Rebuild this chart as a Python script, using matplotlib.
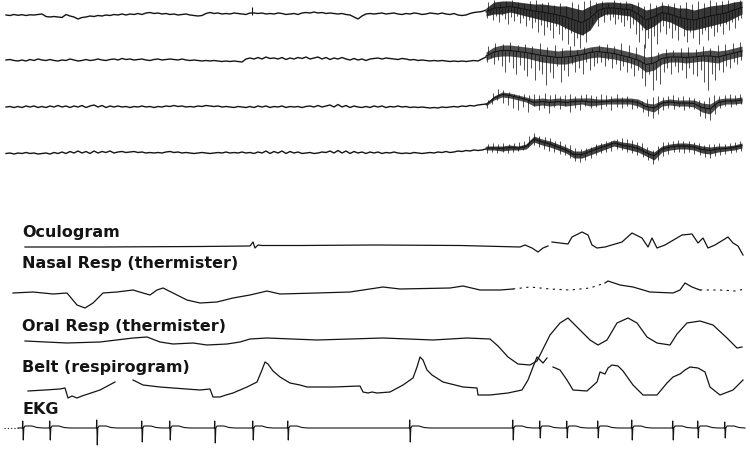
import numpy as np
import matplotlib
matplotlib.use("Agg")
import matplotlib.pyplot as plt

# ---------------- data (pixel-time units, deflections in px, + = downwards) -------------
eeg_bases = [15, 60, 107, 153]

eeg1_left = [0,0.5,-0.5,0.3,-0.3,0.5,-0.2,0,-0.5,-1,1.5,2,1.5,2,2.5,-0.5,1,2,4,2.5,2,1,1.5,0.5,1,0,0.5,-0.5,0,-1,0,-1,-0.5,-1.5,-0.5,-2,-2.5,-1.5,-2,-1,-1.5,-0.5,-1,0,-0.5,-1,0,0.5,1,0.5,-1.5,-2.5,-1.5,-2,-1,-1.5,-1,-2,-1.5,-1,-0.5,-2,-2,-1.5,-2,-1,-1.5,-1,-2,-1.5,-0.5,-1,-1.5,-0.5,-2,-2.5,-2,-3,-2,-2.5,-1.5,-2,-1.5,-1,-1.5,-0.5,0,2,4,1,-1,-1.5,-1,-1.5,-2,-1,-1.5,-2,-1,-0.5,-1.5,-1,-2,-1.5,-0.5,-1,-2,-1.5,-1,-2,-1,-0.5,-1.5,0,0.5,0,-1.5,-2.5,-3,-3.5,-5]
eeg2_left = [0,-0.5,0.5,1,0,1,-0.5,0.5,-1,0,0.5,-0.5,0.5,1,0,0.5,-1,0,1,0.5,-0.5,0.5,0,-1,0,0.5,-0.5,-1,0,-1.5,-0.5,-1,0,-0.5,-1,0,0.5,-0.5,-1,0,-0.5,-1,-0.5,0,-1,0,0.5,0,0.5,1,0.5,1,0.5,1,1.5,1,1.5,1,1.5,2,-1,-2,-1,-2.5,-1,-3,-1.5,-2,-1,-2.5,-0.5,-2,-1,-2.5,-1.5,-3,-1,-2,-3,-1,-2.5,-0.5,-2,-1,-2.5,-1,0,-1.5,0,-1,0.5,-1,-1.5,-2,-1,-2,-1.5,-1,-0.5,-1.5,-1,0,-0.5,0.5,0,0.5,1,0.5,1,0.5,1,1.5,1,1.5,1,1.5,1,0.5,1,-1,-3]
eeg3_left = [0,-0.5,0.5,-0.5,0.5,-1,0,-1,0.5,-0.5,0.5,-1,0,-1.5,0,-1,0.5,-1,0,-1.5,0.5,-1,-2,0,-1.5,0.5,-1,0,-1,0,-0.5,0.5,-0.5,0,-1,0,-0.5,0.5,-0.5,0,-1,-0.5,-1.5,-0.5,-1,0,-0.5,0,-1,-0.5,-1.5,-1,-0.5,-1,0,-0.5,0,0.5,-0.5,0,0.5,-0.5,0.5,-1,0,-1,0.5,-0.5,0,-1,0.5,-0.5,0,-0.5,0.5,-0.5,-1,0,-1.5,0,-1,-2,0,-2.5,0,-1.5,0.5,-1,0,0.5,-0.5,0.5,-1,0,-1,0.5,-0.5,0,-1,0,-0.5,0.5,0,0.5,0,0.5,1,0.5,1,0,0.5,0,-0.5,0,-1,-0.5,-1.5,-1,-2,-2.5,-3]
eeg4_left = [0.5,0,1,0,0.5,-0.5,0.5,0,1,0.5,0,1,-0.5,0.5,-1,0.5,-1.5,0,-2,0,-1.5,0.5,-2,0,-1.5,-0.5,-2,0,-1,-1.5,-0.5,-1,-1.5,-0.5,-1,0,-0.5,0,-0.5,0,-1,-1.5,-0.5,-1,0,-0.5,0,0.5,0,-0.5,0,0.5,0,-0.5,0,-1,0,-0.5,0,-1,0,-0.5,0.5,-1,0,-2,0.5,-1.5,0,-2,0.5,-1.5,0,-1,0.5,0,-0.5,0.5,0,-1,-0.5,-2,0,-2.5,0,-2,0.5,-1.5,0,-1,0.5,-1,0,-1,0.5,-0.5,0,-1,0,0.5,0,0.5,-0.5,0,0.5,0,-0.5,0,-1,-0.5,-1.5,-0.5,-1,-2,-1.5,-2.5,-2,-3,-2.5,-3,-4]

# dense (right) part: upper / lower envelope of the ink band (image y)
eeg1_top = [8,2,1,1,2,3,4,4,5,6,6,8,10,6,3,2,2,3,3,6,10,8,5,6,8,8,10,8,6,5,4,2,1]
eeg1_bot = [16,14,14,12,14,16,18,20,22,24,28,32,35,30,18,14,14,15,16,22,30,26,20,22,26,30,30,28,26,24,22,18,14]
eeg2_top = [52,47,45,45,46,47,48,49,50,51,50,50,49,47,46,47,48,50,52,54,57,56,53,52,52,52,52,51,50,51,50,48,46]
eeg2_bot = [60,57,56,56,57,58,60,62,63,64,64,62,60,58,57,58,59,61,63,66,72,70,64,62,62,63,62,61,62,63,60,58,56]
eeg3_top = [103,96,92,93,95,97,99,98,99,98,99,98,98,98,99,99,98,98,98,99,103,104,100,99,100,100,100,103,104,99,98,98,97]
eeg3_bot = [106,100,97,98,100,102,106,105,106,105,106,105,104,106,105,104,104,104,104,106,110,112,106,105,106,106,107,112,114,106,104,104,103]
eeg4_top = [146,146,146,145,146,144,136,139,141,144,147,151,151,148,145,143,140,142,143,145,149,152,146,144,143,143,144,146,147,146,146,145,143]
eeg4_bot = [150,150,151,150,150,149,142,145,147,150,153,158,158,155,152,149,146,148,150,152,156,160,152,150,149,149,150,153,154,152,151,150,148]

# ends of the vertical pen strokes in the dense part (image y), evenly spread over the span
eeg1_spk_dn = [18,14,20,16,22,15,19,24,17,21,16,23,18,26,20,
               28,22,32,25,35,27,30,38,26,34,40,29,44,33,46,38,48,35,42,30,
               24,18,26,16,22,15,20,17,24,19,22,26,20,28,24,
               34,42,30,48,38,50,36,44,32,
               26,34,28,38,30,40,26,36,42,32,38,28,44,34,30,40,28,36,32,26,34,24,30,22,28,20,18]
eeg1_spk_up = [2,0,3,1,0,2,4,1,0,3,2,5,3,6,2,4,1,0,2,1,3,0,2,1,4,2,6,3,5,2,4,3,5,2,4,1,3,0,2,1,0,2,0]
eeg2_spk_dn = [62,58,64,60,66,72,62,68,74,65,70,76,
               68,80,70,74,85,72,78,66,82,70,76,64,72,68,74,62,70,66,63,
               62,66,60,68,64,70,66,72,68,76,70,
               78,86,74,90,80,84,72,
               68,74,66,72,70,78,68,74,76,70,82,90,74,80,70,72,66,68,62,64,60]
eeg2_spk_up = [46,43,44,42,45,44,46,43,47,45,48,46,50,47,48,45,44,46,43,45,47,44,50,52,49,50,48,47,49,46,48,45,44,43,42]
eeg3_spk_dn = [108,104,100,103,105,108,110,107,112,106,110,108,113,107,109,106,112,108,110,106,108,107,109,106,110,107,108,106,109,108,112,116,118,114,110,108,109,107,110,108,109,116,118,120,114,108,106,107,105,104]
eeg3_spk_up = [100,93,89,90,92,94,95,94,95,94,95,93,95,94,96,95,94,96,95,94,95,96,94,95,96,94,97,96,99,100,101,99,97,96,97,96,95,97,96,97,98,100,101,97,95,96,95,94,95,94]
eeg4_spk_dn = [153,152,153,152,153,152,151,150,147,145,147,149,151,152,154,155,158,161,162,160,158,155,153,152,151,149,150,152,153,155,157,160,164,160,156,154,152,152,153,152,154,155,157,158,156,155,154,153,152,151]
eeg4_spk_up = [144,143,144,143,144,143,142,141,136,133,136,137,138,141,141,144,145,148,149,148,147,144,143,141,141,139,138,139,140,142,143,147,150,146,142,142,141,140,141,141,142,143,145,144,144,143,144,143,142,141]
eeg1_up_spike = (252, 7)

labels = ["Oculogram", "Nasal Resp (thermister)", "Oral Resp (thermister)", "Belt (respirogram)", "EKG"]

oculo_t = [25,100,200,250,253,255,258,262,300,375,460,520,525,532,538,543,548,np.nan,552,568,572,582,588,592,597,605,622,632,642,648,652,657,665,682,692,698,703,708,715,728,733,738,743]
oculo_y = [247,247,246.5,246,242,248,245,245.5,245.5,245,245.5,247,245,248,252,248,246,np.nan,242,244,237,232,235,245,248,247,242,233,238,247,238,248,245,235,234,243,238,248,245,237,243,246,255]

nasal_t = [13,33,53,67,77,85,93,103,117,133,143,150,157,163,173,187,200,217,233,250,267,280,317,350,383,400,450,463,480,500,513]
nasal_y = [293,292,294,293,305,308,303,293,292,290,293,295,290,288,293,300,303,302,298,295,291,294,293,292,287,289,288,286,290,290,289]
nasal_dash1_t = [513,530,550,570,590,605]
nasal_dash1_y = [289,287,289,290,288,283]
nasal_mid_t = [605,608,620,633,650,673,680,685,692,700]
nasal_mid_y = [283,281,285,287,292,293,290,283,287,290]
nasal_dash2_t = [700,720,735,745]
nasal_dash2_y = [290,290,291,289]

oral_t = [25,67,100,133,147,160,173,193,207,227,240,250,267,317,383,433,467,490,498,508,518,530,537,543,550,560,568,577,590,598,607,617,628,637,647,657,670,677,687,700,713,727,737,742]
oral_y = [341,343,342,338,337,342,344,343,345,344,342,339,338,340,338,340,338,339,346,357,364,365,361,349,335,323,318,327,340,345,340,323,318,323,337,343,345,334,323,321,325,338,348,347]

belt_t = [28,45,60,65,68,72,77,82,100,115,np.nan,133,143,160,173,200,210,213,220,226,233,247,257,262,265,268,273,280,290,300,307,333,360,363,368,372,377,390,403,413,417,420,423,427,432,443,463,477,478,490,508,522,528,533,537,540,543,547,np.nan,553,560,567,573,587,597,600,605,608,612,618,623,633,643,657,667,673,680,685,690,698,705,710,720,733,743]
belt_y = [391,390,389,388,398,396,398,396,390,382,np.nan,380,385,387,388,390,389,397,397,395,393,387,382,370,362,364,371,377,383,385,387,387,386,392,393,392,393,392,385,378,367,357,360,370,375,382,387,388,395,395,393,390,380,367,357,360,363,358,np.nan,367,370,380,390,391,382,372,374,368,365,366,371,385,395,395,383,377,374,370,367,368,372,387,395,390,380]

ekg_base = 428
ekg_beats = [23,50,97,142,170,215,253,288,410,513,540,567,598,632,673,698,725]
ekg_up = [7,7,8,7,7,7,7,7,8,8,7,7,7,8,7,7,6]
ekg_down = [12,12,17,14,12,15,12,12,14,12,10,10,10,12,12,10,10]
# shape of the wave after each R (time offset, deflection up)
ekg_after_t = [0.8, 2, 9, 14, 20]
ekg_after_v = [0, 2, 2, 0.5, 0]

INK = "#141414"

fig = plt.figure(figsize=(7.5, 4.54), dpi=100)
ax = fig.add_axes([0, 0, 1, 1])
ax.set_xlim(0, 750)
ax.set_ylim(454, 0)
ax.axis("off")

# ---------------- EEG channels ----------------
lefts = [eeg1_left, eeg2_left, eeg3_left, eeg4_left]
tops = [eeg1_top, eeg2_top, eeg3_top, eeg4_top]
bots = [eeg1_bot, eeg2_bot, eeg3_bot, eeg4_bot]
sdn = [eeg1_spk_dn, eeg2_spk_dn, eeg3_spk_dn, eeg4_spk_dn]
sup = [eeg1_spk_up, eeg2_spk_up, eeg3_spk_up, eeg4_spk_up]
alphas = [0.85, 0.75, 0.75, 0.8]
for base, lv, tp, bt, dn, up, al in zip(eeg_bases, lefts, tops, bots, sdn, sup, alphas):
    lv = np.array(lv, float)
    xl = np.linspace(6, 486, len(lv))
    ax.plot(xl, base + lv, color=INK, lw=1.0, solid_joinstyle="round")
    tp = np.array(tp, float); bt = np.array(bt, float)
    xd = np.linspace(486, 742, len(tp))
    ax.fill_between(xd, tp, bt, color=INK, alpha=al, lw=0)
    mid = (tp + bt) / 2
    ax.plot(xd, mid, color=INK, lw=0.8)
    xs = np.linspace(487, 741, len(dn))
    ax.vlines(xs, np.interp(xs, xd, mid), dn, color=INK, lw=0.7, alpha=0.75)
    xu = np.linspace(488, 740, len(up))
    ax.vlines(xu, np.interp(xu, xd, mid), up, color=INK, lw=0.7, alpha=0.75)
ax.vlines(eeg1_up_spike[0], eeg_bases[0], eeg1_up_spike[1], color=INK, lw=0.8)

# ---------------- labels ----------------
label_y = [237, 268, 331, 372, 414]
for txt, yy in zip(labels, label_y):
    ax.text(22, yy, txt, fontsize=11.5, fontweight="bold", family="DejaVu Sans",
            color=INK, va="baseline", ha="left")

# ---------------- lower channels ----------------
ax.plot(oculo_t, oculo_y, color=INK, lw=0.9)
ax.plot(nasal_t, nasal_y, color=INK, lw=0.9)
ax.plot(nasal_dash1_t, nasal_dash1_y, color=INK, lw=0.8, ls=(0, (2, 4)))
ax.plot(nasal_mid_t, nasal_mid_y, color=INK, lw=0.9)
ax.plot(nasal_dash2_t, nasal_dash2_y, color=INK, lw=0.8, ls=(0, (2, 4)))
ax.plot(oral_t, oral_y, color=INK, lw=0.9)
ax.plot(belt_t, belt_y, color=INK, lw=0.9)

# EKG
ax.plot([4, 18], [ekg_base, ekg_base], color=INK, lw=0.8, ls=(0, (1, 2)))
ex, ey = [18], [ekg_base]
for r, u, d in zip(ekg_beats, ekg_up, ekg_down):
    ex += [r - 0.6, r - 0.3, r + 0.3]
    ey += [ekg_base, ekg_base - u, ekg_base + d]
    ex += [r + o for o in ekg_after_t]
    ey += [ekg_base - v for v in ekg_after_v]
ex += [745]; ey += [ekg_base]
ax.plot(ex, ey, color=INK, lw=0.8)

fig.savefig("out.png", dpi=100, facecolor="white")
